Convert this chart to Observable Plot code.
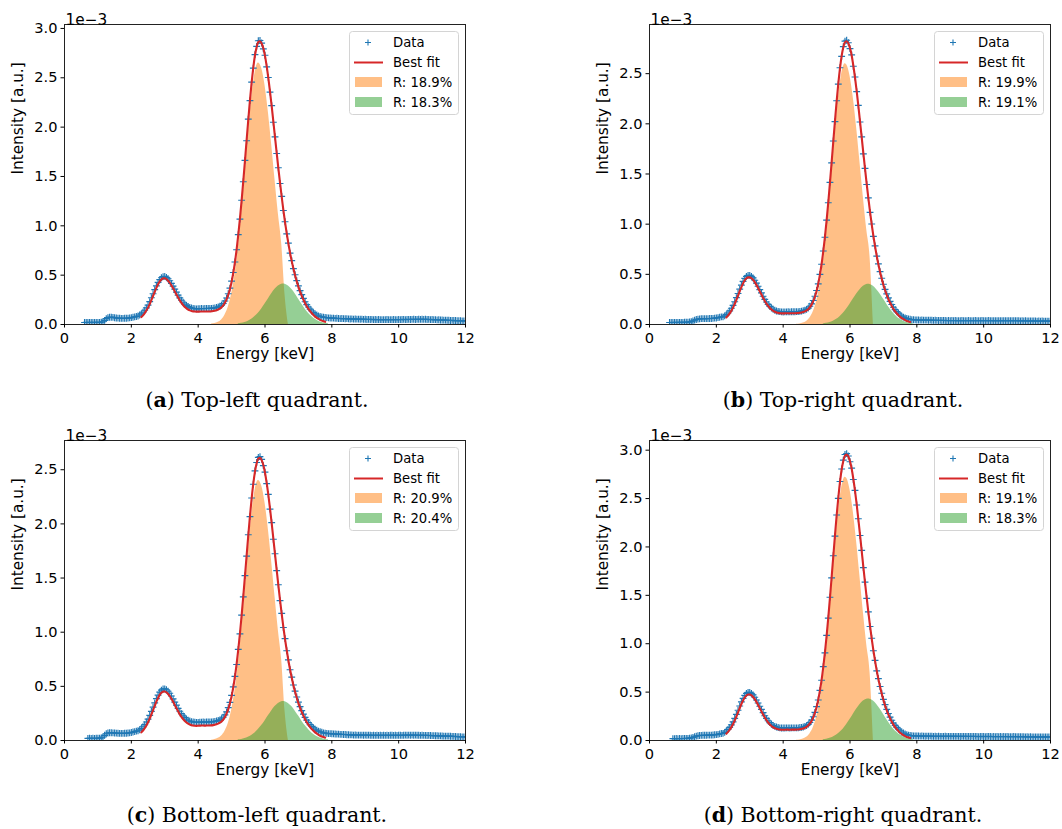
<!DOCTYPE html>
<html>
<head>
<meta charset="utf-8">
<script src="https://cdn.jsdelivr.net/npm/d3@7"></script>
<script src="https://cdn.jsdelivr.net/npm/@observablehq/plot@0.6"></script>
<style>
  html, body { margin: 0; padding: 0; background: #fff; }
  body { width: 1062px; height: 829px; position: relative; overflow: hidden; font-family: "DejaVu Sans", sans-serif; }
  .panel { position: absolute; width: 531px; height: 370px; }
  .panel svg.plot { position: absolute; left: 0; top: 0; }
  .caption { position: absolute; width: 500px; text-align: center; font-family: "DejaVu Serif", serif; font-size: 20.5px; color: #000; line-height: 24px; }
</style>
</head>
<body>
<script>
// ---------- data (intensity in units of 1e-3, energy in keV) ----------
const xTicks = [0, 2, 4, 6, 8, 10, 12];
const yTicksA = [0, 0.5, 1, 1.5, 2, 2.5, 3];
const yTicksB = [0, 0.5, 1, 1.5, 2, 2.5];
const yTicksC = [0, 0.5, 1, 1.5, 2, 2.5];
const yTicksD = [0, 0.5, 1, 1.5, 2, 2.5, 3];

const panelLetters = ["a", "b", "c", "d"];
const captionTexts = ["Top-left quadrant.", "Top-right quadrant.", "Bottom-left quadrant.", "Bottom-right quadrant."];
const legendLabels = ["Data", "Best fit"];
const orangeLabels = ["R: 18.9%", "R: 19.9%", "R: 20.9%", "R: 19.1%"];
const greenLabels  = ["R: 18.3%", "R: 19.1%", "R: 20.4%", "R: 18.3%"];

// measured spectrum: 0.60 .. 12.00 keV every 0.05 keV
const dataStart = 0.6, dataStep = 0.05, dataCount = 229;
const dataA = [
0.020,0.021,0.020,0.021,0.020,0.021,0.021,0.020,0.022,0.021,0.023,0.028,0.042,0.059,0.069,0.073,0.074,0.072,0.068,0.066,
0.064,0.063,0.062,0.062,0.063,0.063,0.065,0.067,0.070,0.073,0.077,0.081,
0.086,0.096,0.108,0.124,0.144,0.169,0.196,0.232,0.271,0.312,
0.353,0.391,0.427,0.454,0.474,0.485,0.487,0.478,0.464,0.443,
0.417,0.389,0.358,0.328,0.298,0.270,0.246,0.225,0.207,0.194,
0.182,0.173,0.167,0.163,0.161,0.159,0.160,0.160,0.162,0.161,
0.162,0.162,0.163,0.163,0.164,0.166,0.169,0.172,0.179,0.186,
0.196,0.213,0.238,0.269,0.312,0.368,0.439,0.527,0.633,0.757,
0.910,1.068,1.259,1.447,1.663,1.862,2.081,2.268,2.456,2.598,
2.735,2.818,2.875,2.878,2.852,2.793,2.728,2.611,2.503,2.355,
2.218,2.049,1.902,1.733,1.588,1.429,1.298,1.155,1.041,0.919,
0.825,0.723,0.647,0.566,0.504,0.444,0.391,0.343,0.302,0.265,
0.231,0.202,0.177,0.156,0.137,0.121,0.107,0.096,0.088,0.082,
0.077,0.074,0.071,0.069,0.067,0.066,0.065,
0.064,0.062,0.063,0.061,0.060,0.061,0.059,0.058,0.059,0.057,
0.056,0.057,0.055,0.056,0.054,0.055,0.053,0.054,0.052,0.053,
0.051,0.052,0.051,0.052,0.050,0.051,0.050,0.051,0.049,0.050,
0.050,0.049,0.051,0.050,0.049,0.050,0.051,0.049,0.050,0.051,
0.050,0.051,0.052,0.050,0.051,0.052,0.051,0.052,0.053,0.051,
0.052,0.053,0.052,0.053,0.052,0.053,0.051,0.052,0.050,0.051,
0.049,0.049,0.047,0.048,0.046,0.046,0.044,0.045,0.043,0.043,
0.041,0.042,0.040,0.040,0.039,0.038,0.038,0.036,0.036,0.035];
const dataB = [
0.020,0.020,0.021,0.020,0.021,0.020,0.021,0.021,0.021,0.022,0.022,0.023,0.025,0.029,0.036,0.044,0.050,0.054,0.056,0.058,
0.058,0.059,0.058,0.059,0.060,0.060,0.061,0.063,0.065,0.068,0.072,0.076,
0.076,0.086,0.098,0.115,0.136,0.162,0.191,0.227,0.268,0.309,
0.353,0.393,0.430,0.459,0.480,0.490,0.490,0.480,0.464,0.441,
0.413,0.381,0.348,0.315,0.282,0.251,0.224,0.200,0.180,0.164,
0.152,0.142,0.135,0.131,0.128,0.126,0.125,0.126,0.126,0.127,
0.126,0.127,0.127,0.127,0.128,0.129,0.131,0.134,0.138,0.143,
0.151,0.163,0.182,0.206,0.239,0.282,0.339,0.405,0.500,0.600,
0.733,0.870,1.041,1.213,1.417,1.611,1.829,2.022,2.230,2.395,
2.559,2.672,2.770,2.824,2.833,2.808,2.750,2.687,2.574,2.467,
2.321,2.184,2.018,1.870,1.701,1.556,1.395,1.262,1.117,1.002,
0.878,0.784,0.681,0.604,0.527,0.461,0.401,0.350,0.305,0.265,
0.230,0.199,0.172,0.149,0.129,0.113,0.095,0.083,0.074,0.066,
0.060,0.056,0.052,0.049,0.047,0.046,0.045,
0.045,0.044,0.045,0.043,0.044,0.043,0.042,0.043,0.042,0.041,
0.042,0.041,0.040,0.041,0.040,0.041,0.040,0.039,0.040,0.039,
0.040,0.039,0.040,0.039,0.038,0.039,0.040,0.039,0.038,0.039,
0.040,0.039,0.038,0.039,0.040,0.039,0.038,0.039,0.040,0.039,
0.038,0.039,0.040,0.039,0.038,0.039,0.039,0.038,0.039,0.038,
0.039,0.038,0.037,0.038,0.039,0.038,0.037,0.038,0.037,0.038,
0.037,0.036,0.037,0.036,0.037,0.036,0.035,0.036,0.035,0.036,
0.035,0.034,0.035,0.034,0.035,0.034,0.033,0.034,0.033,0.034];
const dataC = [
null,null,0.020,0.021,0.020,0.021,0.020,0.021,0.021,0.022,0.024,0.032,0.048,0.062,0.069,0.072,0.072,0.071,0.069,0.068,
0.067,0.066,0.066,0.066,0.067,0.067,0.069,0.071,0.074,0.078,0.082,0.087,
0.090,0.099,0.111,0.127,0.147,0.171,0.198,0.232,0.269,0.308,
0.348,0.386,0.419,0.446,0.465,0.476,0.477,0.469,0.455,0.436,
0.411,0.384,0.354,0.326,0.297,0.270,0.248,0.228,0.212,0.198,
0.187,0.180,0.174,0.171,0.169,0.168,0.168,0.170,0.170,0.171,
0.170,0.171,0.171,0.172,0.172,0.174,0.176,0.180,0.185,0.191,
0.201,0.215,0.236,0.264,0.303,0.352,0.417,0.495,0.592,0.702,
0.842,0.984,1.158,1.326,1.522,1.702,1.900,2.067,2.239,2.366,
2.490,2.567,2.614,2.621,2.596,2.538,2.478,2.372,2.273,2.137,
2.012,1.858,1.724,1.569,1.438,1.292,1.174,1.043,0.940,0.829,
0.745,0.653,0.585,0.512,0.456,0.402,0.355,0.313,0.276,0.243,
0.214,0.188,0.166,0.147,0.130,0.116,0.104,0.095,0.087,0.081,
0.076,0.070,0.068,0.066,0.064,0.063,0.062,
0.061,0.060,0.059,0.059,0.057,0.057,0.055,0.055,0.053,0.053,
0.052,0.052,0.050,0.051,0.050,0.050,0.049,0.050,0.048,0.049,
0.048,0.049,0.048,0.047,0.048,0.047,0.048,0.047,0.048,0.047,
0.048,0.047,0.048,0.047,0.048,0.048,0.047,0.048,0.047,0.048,
0.048,0.047,0.048,0.049,0.048,0.049,0.048,0.049,0.048,0.049,
0.048,0.048,0.047,0.048,0.047,0.047,0.046,0.047,0.046,0.045,
0.045,0.044,0.044,0.043,0.043,0.042,0.041,0.041,0.040,0.040,
0.039,0.038,0.038,0.037,0.036,0.036,0.035,0.034,0.034,0.033];
const dataD = [
null,null,0.020,0.020,0.021,0.020,0.021,0.020,0.021,0.021,0.022,0.022,0.024,0.027,0.032,0.039,0.045,0.049,0.052,0.053,
0.054,0.054,0.054,0.055,0.055,0.056,0.057,0.059,0.061,0.064,0.068,0.072,
0.074,0.084,0.098,0.115,0.136,0.162,0.193,0.229,0.270,0.313,
0.357,0.399,0.436,0.466,0.487,0.498,0.497,0.487,0.471,0.447,
0.419,0.387,0.354,0.321,0.288,0.256,0.229,0.204,0.184,0.168,
0.155,0.146,0.139,0.134,0.131,0.129,0.129,0.129,0.130,0.130,
0.129,0.130,0.130,0.130,0.131,0.131,0.134,0.136,0.140,0.146,
0.154,0.166,0.186,0.210,0.245,0.291,0.350,0.419,0.518,0.623,
0.763,0.906,1.086,1.265,1.480,1.681,1.909,2.112,2.330,2.502,
2.676,2.806,2.897,2.955,2.964,2.940,2.880,2.814,2.697,2.585,
2.433,2.291,2.118,1.964,1.787,1.636,1.468,1.329,1.178,1.057,
0.927,0.828,0.720,0.639,0.558,0.488,0.425,0.370,0.321,0.279,
0.242,0.209,0.180,0.156,0.135,0.117,0.101,0.088,0.077,0.068,
0.061,0.056,0.052,0.050,0.048,0.047,0.046,
0.046,0.045,0.046,0.045,0.044,0.045,0.044,0.045,0.044,0.043,
0.044,0.043,0.044,0.043,0.042,0.043,0.044,0.043,0.042,0.043,
0.042,0.043,0.042,0.043,0.042,0.041,0.042,0.043,0.042,0.041,
0.042,0.041,0.042,0.041,0.042,0.041,0.040,0.041,0.042,0.041,
0.040,0.041,0.042,0.041,0.040,0.041,0.040,0.041,0.040,0.041,
0.040,0.041,0.040,0.041,0.040,0.039,0.040,0.041,0.040,0.039,
0.040,0.039,0.040,0.039,0.038,0.039,0.038,0.039,0.038,0.038,
0.037,0.038,0.037,0.038,0.037,0.036,0.037,0.036,0.037,0.036];

// best fit: 2.30 .. 7.80 keV every 0.05 keV
const fitStart = 2.3, fitStep = 0.05, fitCount = 111;
const fitA = [
0.075,0.092,0.114,0.141,0.171,0.207,0.247,0.289,0.331,0.371,
0.407,0.436,0.456,0.467,0.468,0.459,0.444,0.423,0.396,0.367,
0.335,0.304,0.273,0.244,0.219,0.197,0.178,0.164,0.152,0.143,
0.137,0.133,0.131,0.130,0.130,0.131,0.132,0.131,0.131,0.132,
0.132,0.132,0.134,0.136,0.140,0.144,0.152,0.161,0.174,0.193,
0.220,0.254,0.300,0.358,0.431,0.522,0.630,0.759,0.907,1.072,
1.255,1.452,1.658,1.868,2.075,2.273,2.450,2.604,2.728,2.813,
2.862,2.870,2.848,2.799,2.722,2.618,2.497,2.361,2.212,2.055,
1.896,1.738,1.582,1.434,1.292,1.159,1.035,0.923,0.820,0.726,
0.642,0.567,0.499,0.437,0.382,0.333,0.290,0.252,0.216,0.185,
0.159,0.135,0.114,0.096,0.080,0.068,0.056,0.047,0.039,0.033,
0.027];
const fitB = [
0.070,0.088,0.110,0.137,0.168,0.205,0.246,0.288,0.332,0.373,
0.410,0.439,0.460,0.470,0.470,0.461,0.445,0.423,0.395,0.363,
0.330,0.298,0.265,0.235,0.208,0.185,0.165,0.149,0.137,0.127,
0.120,0.116,0.113,0.111,0.111,0.111,0.112,0.112,0.111,0.112,
0.112,0.112,0.113,0.114,0.117,0.120,0.125,0.131,0.140,0.153,
0.173,0.198,0.233,0.277,0.335,0.407,0.497,0.603,0.729,0.874,
1.037,1.218,1.412,1.616,1.823,2.028,2.224,2.400,2.553,2.677,
2.763,2.814,2.823,2.803,2.755,2.681,2.579,2.461,2.326,2.178,
2.023,1.864,1.706,1.550,1.400,1.256,1.122,0.996,0.882,0.778,
0.683,0.599,0.524,0.455,0.394,0.341,0.294,0.252,0.216,0.184,
0.155,0.131,0.110,0.092,0.076,0.064,0.053,0.043,0.035,0.030,
0.024];
const fitC = [
0.075,0.092,0.113,0.139,0.168,0.202,0.240,0.280,0.320,0.359,
0.393,0.421,0.440,0.451,0.452,0.444,0.430,0.410,0.385,0.357,
0.327,0.298,0.269,0.241,0.218,0.197,0.180,0.166,0.155,0.147,
0.141,0.138,0.136,0.135,0.136,0.137,0.138,0.138,0.137,0.138,
0.138,0.139,0.140,0.142,0.145,0.150,0.156,0.164,0.176,0.193,
0.217,0.248,0.290,0.342,0.409,0.490,0.589,0.705,0.838,0.988,
1.153,1.331,1.517,1.707,1.894,2.073,2.233,2.371,2.483,2.560,
2.603,2.610,2.589,2.543,2.472,2.378,2.267,2.142,2.006,1.863,
1.718,1.574,1.432,1.297,1.168,1.047,0.934,0.833,0.739,0.655,
0.579,0.511,0.450,0.395,0.345,0.301,0.262,0.228,0.197,0.169,
0.145,0.124,0.105,0.089,0.075,0.064,0.053,0.044,0.037,0.032,
0.026];
const fitD = [
0.071,0.089,0.111,0.138,0.170,0.207,0.248,0.291,0.335,0.377,
0.414,0.444,0.465,0.476,0.475,0.466,0.450,0.427,0.399,0.367,
0.334,0.301,0.268,0.237,0.210,0.186,0.166,0.150,0.137,0.128,
0.121,0.116,0.113,0.111,0.111,0.111,0.113,0.112,0.111,0.112,
0.112,0.112,0.113,0.114,0.117,0.120,0.125,0.132,0.141,0.155,
0.176,0.202,0.239,0.286,0.346,0.421,0.515,0.626,0.759,0.910,
1.081,1.270,1.474,1.687,1.903,2.118,2.324,2.508,2.669,2.800,
2.889,2.944,2.954,2.934,2.885,2.808,2.702,2.579,2.439,2.285,
2.124,1.958,1.792,1.630,1.473,1.323,1.183,1.051,0.931,0.822,
0.722,0.634,0.555,0.482,0.418,0.361,0.311,0.267,0.229,0.194,
0.164,0.139,0.117,0.097,0.080,0.067,0.055,0.045,0.037,0.031,
0.025];

// first fitted component (orange)
const orangeEnergyAC = [4.4,4.5,4.6,4.7,4.8,4.9,5.0,5.1,5.2,5.3,5.4,5.5,5.6,5.7,5.8,5.9,6.0,6.1,6.2,6.3,6.4,6.5,6.6,6.7];
const orangeEnergyBD = [4.4,4.5,4.6,4.7,4.8,4.9,5.0,5.1,5.2,5.3,5.4,5.5,5.6,5.7,5.8,5.85,5.9,6.0,6.1,6.2,6.3,6.4,6.5,6.6,6.7];
const orangeA = [0.004,0.010,0.022,0.046,0.093,0.174,0.307,0.505,0.780,1.127,1.525,1.932,2.292,2.547,2.650,2.597,2.425,2.153,1.821,1.465,1.122,0.819,0.300,0];
const orangeB = [0.002,0.006,0.014,0.031,0.065,0.126,0.229,0.390,0.621,0.927,1.297,1.697,2.083,2.389,2.568,2.600,2.589,2.477,2.254,1.955,1.612,1.266,0.947,0.673,0];
const orangeC = [0.003,0.009,0.020,0.042,0.084,0.158,0.278,0.457,0.706,1.021,1.381,1.750,2.076,2.307,2.400,2.352,2.196,1.950,1.649,1.327,1.016,0.742,0.270,0];
const orangeD = [0.0025,0.006,0.015,0.033,0.068,0.131,0.239,0.408,0.650,0.970,1.357,1.775,2.179,2.499,2.687,2.720,2.709,2.591,2.358,2.045,1.686,1.324,0.991,0.704,0];

// second fitted component (green)
const greenEnergy = [5.2,5.3,5.4,5.5,5.6,5.7,5.8,5.9,6.0,6.1,6.2,6.3,6.4,6.5,6.55,6.6,6.7,6.8,6.9,7.0,7.1,7.2,7.3,7.4,7.5,7.6,7.7,7.8,7.9];
const greenA = [0.007,0.012,0.021,0.034,0.053,0.080,0.115,0.157,0.207,0.259,0.311,0.356,0.390,0.408,0.410,0.408,0.390,0.356,0.311,0.259,0.207,0.157,0.115,0.080,0.053,0.034,0.021,0.012,0.007];
const greenB = [0.006,0.012,0.020,0.033,0.052,0.078,0.112,0.154,0.202,0.253,0.303,0.347,0.380,0.398,0.400,0.398,0.380,0.347,0.303,0.253,0.202,0.154,0.112,0.078,0.052,0.033,0.020,0.012,0.006];
const greenC = [0.006,0.010,0.018,0.030,0.047,0.070,0.101,0.138,0.181,0.228,0.273,0.313,0.342,0.358,0.360,0.358,0.342,0.313,0.273,0.228,0.181,0.138,0.101,0.070,0.047,0.030,0.018,0.010,0.006];
const greenD = [0.007,0.013,0.022,0.035,0.056,0.084,0.120,0.165,0.217,0.272,0.326,0.373,0.409,0.427,0.430,0.427,0.409,0.373,0.326,0.272,0.217,0.165,0.120,0.084,0.056,0.035,0.022,0.013,0.007];

const yMaxes = [3.04, 2.99, 2.77, 3.10];

// ---------- build ----------
const BLUE = "#1f77b4", RED = "#d62728", ORANGE = "#ff7f0e", GREEN = "#2ca02c";
const grid = (start, step, n) => d3.range(n).map(i => Math.round((start + step * i) * 100) / 100);
const dataEnergy = grid(dataStart, dataStep, dataCount);
const fitEnergy = grid(fitStart, fitStep, fitCount);
const rows = (xs, ys) => xs.map((e, i) => ({e, v: ys[i]})).filter(d => d.v != null && d.v !== undefined);

const panels = [
  {data: dataA, fit: fitA, oE: orangeEnergyAC, o: orangeA, g: greenA, yTicks: yTicksA, left: 0, top: 0},
  {data: dataB, fit: fitB, oE: orangeEnergyBD, o: orangeB, g: greenB, yTicks: yTicksB, left: 585, top: 0},
  {data: dataC, fit: fitC, oE: orangeEnergyAC, o: orangeC, g: greenC, yTicks: yTicksC, left: 0, top: 416},
  {data: dataD, fit: fitD, oE: orangeEnergyBD, o: orangeD, g: greenD, yTicks: yTicksD, left: 585, top: 416}
];

const FS = 14.6, LS = 15.3;
panels.forEach((p, k) => {
  const div = document.createElement("div");
  div.className = "panel";
  div.style.left = p.left + "px";
  div.style.top = p.top + "px";
  const chart = Plot.plot({
    width: 531, height: 370,
    marginLeft: 64, marginRight: 66, marginTop: 24, marginBottom: 46,
    x: {domain: [0, 12]},
    y: {domain: [0, yMaxes[k]]},
    style: {fontFamily: "DejaVu Sans, sans-serif", fontSize: FS + "px", color: "#000", background: "transparent", overflow: "visible"},
    marks: [
      Plot.areaY(rows(p.oE, p.o), {x: "e", y: "v", fill: ORANGE, fillOpacity: 0.5, curve: "monotone-x"}),
      Plot.areaY(rows(greenEnergy, p.g), {x: "e", y: "v", fill: GREEN, fillOpacity: 0.5, curve: "monotone-x"}),
      Plot.dot(rows(dataEnergy, p.data), {x: "e", y: "v", symbol: "plus", r: 2.35, stroke: BLUE, fill: "none", strokeWidth: 1.15, clip: true}),
      Plot.line(rows(fitEnergy, p.fit), {x: "e", y: "v", stroke: RED, strokeWidth: 2.1, curve: "monotone-x"}),
      Plot.frame({stroke: "#222", strokeWidth: 1}),
      Plot.axisX({ticks: xTicks, tickSize: 3.5, tickPadding: 5, tickFormat: d => String(d), label: null, fontSize: FS}),
      Plot.axisY({ticks: p.yTicks, tickSize: 3.5, tickPadding: 3.5, tickFormat: d => d.toFixed(1), label: null, fontSize: FS}),
      Plot.text(["Energy [keV]"], {frameAnchor: "bottom", dy: 34, fontSize: LS, text: d => d}),
      Plot.text(["Intensity [a.u.]"], {frameAnchor: "left", dx: -46, rotate: -90, fontSize: LS, text: d => d}),
      Plot.text(["1e\u22123"], {frameAnchor: "top-left", dx: 1, dy: -10, textAnchor: "start", fontSize: LS, text: d => d})
    ]
  });
  chart.classList.add("plot");
  div.appendChild(chart);

  // legend
  const ns = "http://www.w3.org/2000/svg";
  const lg = document.createElementNS(ns, "svg");
  lg.setAttribute("width", "111");
  lg.setAttribute("height", "85");
  lg.style.position = "absolute";
  lg.style.left = "349px";
  lg.style.top = "31px";
  lg.innerHTML = `
    <rect x="0.5" y="0.5" width="109" height="83" rx="3" ry="3" fill="#ffffff" fill-opacity="0.8" stroke="#d4d4d4" stroke-width="1"/>
    <path d="M16,11.5H22M19,8.5V14.5" stroke="${BLUE}" stroke-width="1.1" fill="none"/>
    <line x1="5" x2="34" y1="31.5" y2="31.5" stroke="${RED}" stroke-width="2"/>
    <rect x="6" y="46" width="27" height="10" fill="${ORANGE}" fill-opacity="0.5"/>
    <rect x="6" y="66" width="27" height="10" fill="${GREEN}" fill-opacity="0.5"/>
    <g font-family="DejaVu Sans, sans-serif" font-size="13.2" fill="#000">
      <text x="44" y="11.5" dy="0.36em">${legendLabels[0]}</text>
      <text x="44" y="31.5" dy="0.36em">${legendLabels[1]}</text>
      <text x="44" y="51" dy="0.36em">${orangeLabels[k]}</text>
      <text x="44" y="71" dy="0.36em">${greenLabels[k]}</text>
    </g>`;
  div.appendChild(lg);
  document.body.appendChild(div);

  // caption
  const cap = document.createElement("div");
  cap.className = "caption";
  cap.style.left = (p.left + (k % 2 === 0 ? 257 : 258) - 250) + "px";
  cap.style.top = (p.top + (k < 2 ? 388 : 387)) + "px";
  cap.innerHTML = `(<b>${panelLetters[k]}</b>) ${captionTexts[k]}`;
  document.body.appendChild(cap);
});
</script>
</body>
</html>
